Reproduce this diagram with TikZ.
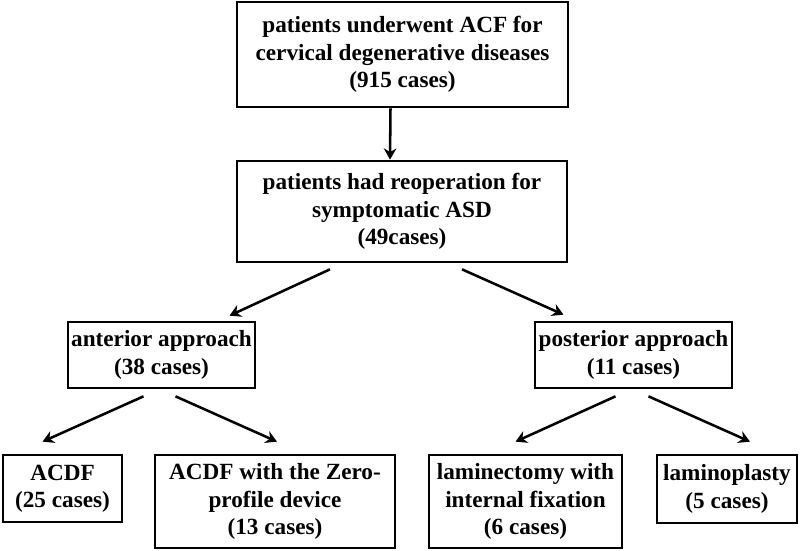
\documentclass[tikz,border=0pt]{standalone}
\usepackage{fontspec}
\setmainfont{Liberation Serif}[BoldFont={Liberation Serif Bold}]
\usetikzlibrary{arrows.meta,calc}

\tikzset{
  box/.style={draw, line width=1.9pt, align=center, inner sep=2pt,
    font=\fontsize{16.5}{19.5}\selectfont\bfseries},
  arr/.style={line width=1.8pt, -{Stealth[length=8pt,width=9pt]}}
}

\begin{document}
\begin{tikzpicture}[x=0.25mm, y=-0.25mm]
	\useasboundingbox (0, 0) rectangle (800, 551);

	% levels
	\node[box, minimum width=82.75mm, minimum height=26.25mm] (all) at (402.5, 54.5)
		{patients underwent ACF for\\cervical degenerative diseases\\(915 cases)};
	\node[box, minimum width=82.5mm, minimum height=25.25mm] (reop) at (402, 211.5)
		{patients had reoperation for\\symptomatic ASD\\(49cases)};

	\node[box, minimum width=46.75mm, minimum height=16.5mm] (ant) at (161.5, 355)
		{anterior approach\\(38 cases)};
	\node[box, minimum width=49.25mm, minimum height=16.5mm] (post) at (633.5, 355)
		{posterior approach\\(11 cases)};

	\node[box, minimum width=29.75mm, minimum height=16.75mm] (acdf) at (62.5, 488.5)
		{ACDF\\(25 cases)};
	\node[box, minimum width=60mm, minimum height=23.25mm] (zero) at (275, 501.5)
		{ACDF with the Zero-\\profile device\\(13 cases)};
	\node[box, minimum width=48.25mm, minimum height=23.25mm] (lamin) at (525.5, 501.5)
		{laminectomy with\\internal fixation\\(6 cases)};
	\node[box, minimum width=35mm, minimum height=17mm] (plasty) at (727, 489)
		{laminoplasty\\(5 cases)};

	% arrows
	\draw[arr] ($(all.south)+(-12,0)$) -- ($(reop.north)+(-12,0)$);
	\draw[arr] ($(reop.south)+(-72,6)$) -- ($(ant.north)+(68,-5)$);
	\draw[arr] ($(reop.south)+(60,6)$) -- ($(post.north)+(-70,-6)$);
	\draw[arr] ($(ant.south)+(-18,7)$) -- ($(acdf.north)+(-20,-12)$);
	\draw[arr] ($(ant.south)+(14,7)$) -- ($(zero.north)+(2,-12)$);
	\draw[arr] ($(post.south)+(-18,7)$) -- ($(lamin.north)+(-10,-12)$);
	\draw[arr] ($(post.south)+(15,7)$) -- ($(plasty.north)+(23,-12)$);
\end{tikzpicture}
\end{document}
